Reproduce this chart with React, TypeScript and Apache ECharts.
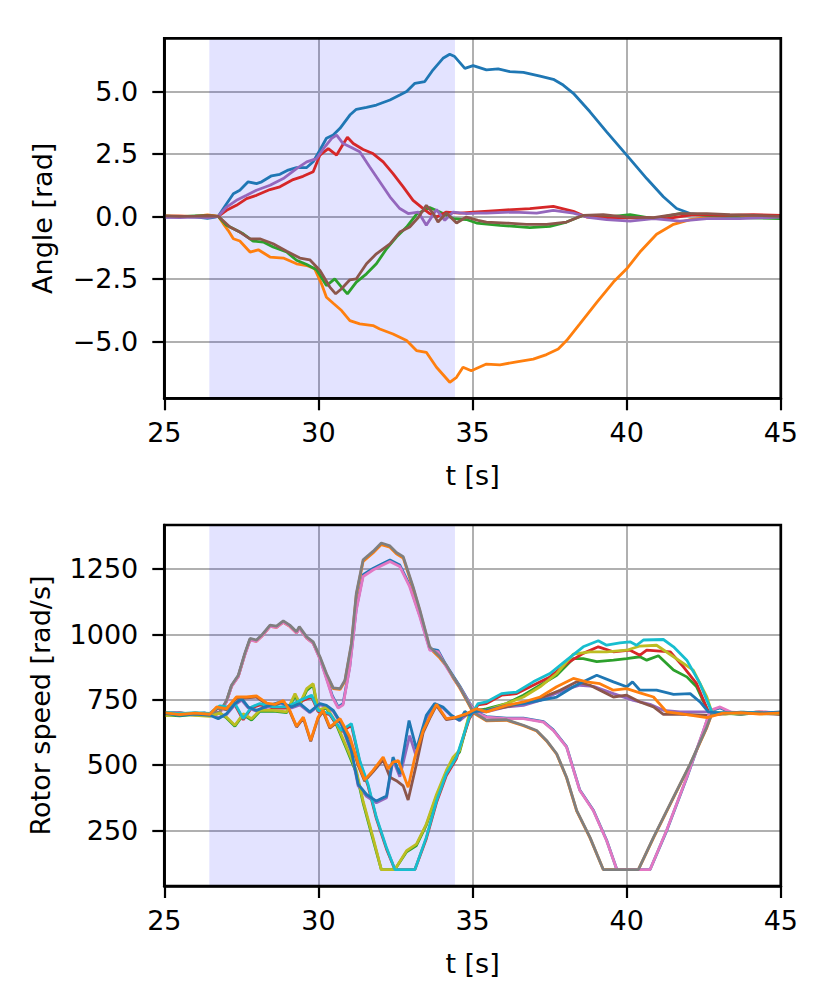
import React, { useEffect, useRef } from "react";
import * as echarts from "echarts";

type P = [number, number][];

const TAB10 = ["#1f77b4", "#ff7f0e", "#2ca02c", "#d62728", "#9467bd", "#8c564b", "#e377c2", "#7f7f7f", "#bcbd22", "#17becf"];

const X_TICKS = [25, 30, 35, 40, 45];
const ANGLE_TICKS = [-5, -2.5, 0, 2.5, 5];
const SPEED_TICKS = [250, 500, 750, 1000, 1250];
const SHADE: [number, number] = [26.46, 34.43];

// ---- Angles [rad] ----
const angBlue: P = [[25,-0.03],[25.5,0],[26,-0.02],[26.4,-0.08],[26.6,-0.04],[26.75,0],[27.02,0.5],[27.24,0.9],[27.45,1.04],[27.72,1.38],[27.99,1.31],[28.16,1.38],[28.48,1.62],[28.75,1.68],[29.02,1.85],[29.29,1.95],[29.62,1.95],[29.83,2.18],[30.05,2.65],[30.26,3.12],[30.48,3.25],[30.7,3.52],[31.02,4.05],[31.23,4.28],[31.56,4.36],[31.88,4.45],[32.32,4.65],[32.64,4.85],[32.86,4.99],[33.13,5.32],[33.45,5.39],[33.72,5.86],[34.04,6.32],[34.26,6.48],[34.42,6.39],[34.75,5.92],[35.02,6.03],[35.45,5.86],[35.83,5.9],[36.21,5.79],[36.65,5.76],[37.19,5.61],[37.62,5.48],[37.94,5.25],[38.27,4.92],[38.81,4.18],[39.35,3.38],[40.0,2.45],[40.65,1.51],[41.19,0.78],[41.62,0.31],[42.06,0.11],[42.6,0.04],[43.2,-0.02],[43.8,0.03],[44.4,-0.02],[45,0]];
const angOrange: P = [[25,0.02],[25.5,0.01],[26,0],[26.4,0.06],[26.6,0.03],[26.75,0],[26.91,-0.29],[27.07,-0.56],[27.24,-0.9],[27.45,-0.99],[27.78,-1.43],[28.05,-1.34],[28.43,-1.63],[28.86,-1.67],[29.29,-1.9],[29.62,-1.97],[29.88,-2.1],[30.1,-2.7],[30.26,-3.24],[30.48,-3.48],[30.75,-3.77],[31.02,-4.17],[31.34,-4.3],[31.77,-4.37],[31.99,-4.51],[32.42,-4.71],[32.86,-4.97],[33.18,-5.37],[33.5,-5.44],[33.83,-6.04],[34.26,-6.64],[34.48,-6.44],[34.69,-6.04],[34.96,-6.18],[35.45,-5.91],[35.89,-5.94],[36.43,-5.82],[36.97,-5.71],[37.4,-5.53],[37.78,-5.31],[38.05,-4.97],[38.48,-4.3],[39.03,-3.44],[39.57,-2.63],[40.0,-2.1],[40.43,-1.43],[40.97,-0.72],[41.52,-0.32],[42.06,-0.13],[42.6,-0.05],[43.3,0.02],[44,-0.02],[45,0.01]];
const angGreen: P = [[25,0.01],[25.5,-0.01],[26,0.02],[26.4,0.03],[26.75,0],[27.02,-0.36],[27.34,-0.56],[27.56,-0.7],[27.88,-0.99],[28.21,-1.03],[28.53,-1.23],[28.97,-1.43],[29.29,-1.76],[29.62,-1.93],[29.94,-2.14],[30.26,-2.77],[30.53,-2.5],[30.75,-2.83],[30.94,-3.1],[31.23,-2.63],[31.56,-2.3],[31.88,-1.9],[32.21,-1.3],[32.53,-0.83],[32.86,-0.43],[33.18,0.08],[33.61,0.35],[33.94,0.17],[34.37,-0.09],[34.8,-0.13],[35.13,-0.27],[35.89,-0.36],[36.86,-0.45],[37.51,-0.4],[38.05,-0.23],[38.59,0.04],[39.35,-0.03],[40.11,0.07],[40.87,-0.09],[41.73,0.11],[42.6,0.04],[43.68,-0.05],[45,-0.09]];
const angRed: P = [[25,0],[25.5,0.01],[26,-0.01],[26.4,0.02],[26.75,0],[27.02,0.24],[27.34,0.44],[27.67,0.71],[27.99,0.84],[28.43,1.07],[28.75,1.18],[29.18,1.47],[29.5,1.6],[29.83,1.78],[30.05,2.45],[30.32,2.71],[30.59,2.45],[30.75,2.78],[30.94,3.16],[31.13,2.91],[31.45,2.67],[31.77,2.51],[32.1,2.18],[32.42,1.71],[32.75,1.18],[33.07,0.64],[33.4,0.31],[33.61,0.11],[33.83,-0.03],[34.15,0.17],[34.59,0.13],[35.02,0.17],[35.89,0.24],[36.86,0.31],[37.62,0.4],[38.27,0.2],[38.7,-0.03],[39.57,-0.07],[40.43,-0.05],[41.3,-0.09],[42.16,0.07],[43.14,0.04],[44.11,0.07],[45,0.04]];
const angPurple: P = [[25,-0.04],[25.5,-0.05],[26,-0.03],[26.4,-0.05],[26.75,0],[27.02,0.37],[27.34,0.64],[27.67,0.84],[27.99,1.04],[28.43,1.24],[28.86,1.51],[29.29,1.91],[29.62,2.18],[29.94,2.31],[30.21,2.78],[30.43,3.12],[30.59,3.25],[30.8,2.91],[31.07,2.75],[31.34,2.58],[31.66,1.98],[31.99,1.38],[32.32,0.78],[32.64,0.31],[32.91,0.11],[33.24,0.17],[33.5,-0.36],[33.83,0.27],[34.1,-0.16],[34.37,0.17],[34.8,0.11],[35.18,0.13],[35.45,0.13],[36.32,0.17],[37.08,0.13],[37.62,0.24],[38.27,0.13],[38.81,-0.05],[39.35,-0.13],[40.11,-0.19],[40.87,-0.09],[41.73,-0.19],[42.6,-0.09],[43.68,-0.09],[45,-0.03]];
const angBrown: P = [[25,0.02],[25.5,0],[26,0.01],[26.4,0.02],[26.75,0],[27.13,-0.43],[27.45,-0.63],[27.78,-0.9],[28.1,-0.9],[28.53,-1.1],[28.97,-1.4],[29.4,-1.67],[29.72,-1.74],[30.05,-2.17],[30.37,-2.83],[30.56,-3.1],[30.75,-2.9],[31.02,-2.54],[31.23,-2.5],[31.56,-1.9],[31.88,-1.5],[32.32,-1.1],[32.64,-0.63],[32.96,-0.43],[33.24,-0.05],[33.5,0.44],[33.72,0.13],[33.88,-0.23],[34.15,0.13],[34.48,-0.27],[34.8,-0.03],[35.18,-0.16],[35.45,-0.23],[36.1,-0.27],[36.75,-0.32],[37.4,-0.32],[38.05,-0.23],[38.59,0.04],[39.24,0.07],[40.0,-0.03],[40.87,-0.05],[41.73,0.11],[42.6,0.11],[43.35,0.07],[45,0]];

// ---- Rotor speeds [rad/s] ----
const rot0: P = [[25,697],[25.4,701],[25.9,694],[26.3,699],[26.48,693],[26.8,701],[27.02,744],[27.18,802],[27.4,840],[27.61,922],[27.78,980],[27.99,975],[28.16,994],[28.43,1032],[28.64,1028],[28.86,1048],[29.07,1033],[29.29,1007],[29.38,1024],[29.62,987],[29.83,967],[30.05,908],[30.26,834],[30.45,765],[30.64,722],[30.8,735],[31.02,880],[31.23,1100],[31.45,1228],[31.77,1252],[32.04,1268],[32.32,1284],[32.64,1265],[32.96,1188],[33.29,1072],[33.61,944],[33.88,938],[34.15,880],[34.58,803],[34.9,738],[35.1,702],[35.45,685],[36.1,679],[36.65,679],[37.3,666],[37.62,634],[38.05,570],[38.48,404],[38.92,327],[39.35,212],[39.68,100],[40.76,100],[41.3,249],[41.95,451],[42.49,630],[42.71,707],[43.03,718],[43.4,700],[44,697],[44.5,701],[45,696]];
const rot1: P = [[25,699],[25.4,694],[25.9,696],[26.3,695],[26.48,695],[26.8,701],[27.02,744],[27.18,801],[27.4,839],[27.61,922],[27.78,979],[27.99,973],[28.16,992],[28.43,1030],[28.64,1026],[28.86,1046],[29.07,1030],[29.29,1005],[29.38,1024],[29.62,985],[29.83,966],[30.05,909],[30.26,846],[30.48,792],[30.7,789],[30.86,820],[31.07,958],[31.23,1150],[31.45,1279],[31.77,1311],[32.04,1343],[32.32,1333],[32.53,1308],[32.75,1292],[33.07,1177],[33.29,1088],[33.61,947],[33.94,909],[34.15,878],[34.37,833],[34.58,795],[34.85,738],[35.02,700],[35.45,669],[36.1,671],[36.65,650],[37.08,630],[37.4,592],[37.73,541],[38.05,451],[38.38,323],[38.81,221],[39.24,100],[40.38,100],[40.87,221],[41.52,375],[42.06,502],[42.6,643],[42.76,694],[43.2,698],[43.7,696],[44.2,700],[44.7,697],[45,694]];
const rot2: P = [[25,692],[25.5,688],[26,694],[26.48,690],[26.8,697],[27.02,680],[27.29,648],[27.56,692],[27.83,672],[28.1,705],[28.53,706],[28.97,700],[29.24,765],[29.4,730],[29.62,785],[29.83,805],[29.99,705],[30.26,718],[30.59,652],[30.91,562],[31.23,470],[31.45,355],[31.77,215],[32.04,100],[32.48,100],[32.86,168],[33.18,192],[33.5,270],[33.83,380],[34.15,472],[34.37,525],[34.58,550],[34.9,690],[35.02,705],[35.45,715],[36.1,735],[36.65,767],[37.19,805],[37.73,843],[38.27,907],[38.59,907],[39.03,895],[39.57,901],[40.0,907],[40.43,914],[40.65,901],[41.03,918],[41.52,863],[41.95,837],[42.27,799],[42.65,703],[43.1,698],[43.7,694],[44.3,700],[45,697]];
const rot3: P = [[25,699],[25.5,694],[26,698],[26.48,695],[26.8,722],[27.02,718],[27.29,730],[27.56,673],[27.83,718],[28.1,730],[28.53,718],[28.97,718],[29.4,742],[29.78,760],[29.99,705],[30.37,692],[30.75,628],[31.07,652],[31.34,512],[31.61,420],[31.88,295],[32.21,178],[32.48,100],[33.13,100],[33.5,218],[33.83,356],[34.15,460],[34.48,525],[34.9,678],[35.18,730],[35.45,735],[35.94,767],[36.43,773],[36.97,805],[37.51,837],[38.05,888],[38.59,927],[39.08,952],[39.57,933],[40.11,939],[40.43,920],[40.65,939],[41.41,933],[41.84,875],[42.27,811],[42.65,703],[43.1,700],[43.7,697],[44.3,703],[45,699]];
const rot4: P = [[25,694],[25.5,697],[26,691],[26.48,693],[26.75,680],[27.02,693],[27.29,730],[27.51,748],[27.72,718],[27.99,706],[28.32,720],[28.75,737],[29.13,718],[29.4,730],[29.72,700],[30.05,730],[30.26,724],[30.48,705],[30.75,652],[31.07,548],[31.29,420],[31.56,380],[31.88,355],[32.21,375],[32.42,520],[32.64,455],[32.96,612],[33.18,530],[33.5,680],[33.77,730],[34.04,718],[34.31,688],[34.58,670],[34.9,700],[35.02,703],[35.45,703],[36.1,722],[36.65,728],[37.19,747],[37.62,770],[38.05,790],[38.48,805],[38.92,801],[39.57,773],[40.22,747],[40.76,732],[41.19,709],[41.73,703],[42.6,703],[43.2,698],[43.8,701],[44.4,697],[45,700]];
const rot5: P = [[25,696],[25.5,699],[26,693],[26.48,697],[26.7,718],[27.02,712],[27.34,755],[27.67,757],[27.99,760],[28.32,733],[28.59,728],[28.86,743],[29.07,705],[29.29,645],[29.51,679],[29.75,590],[29.99,679],[30.15,705],[30.37,641],[30.7,673],[31.02,600],[31.29,498],[31.5,438],[31.77,474],[32.1,520],[32.32,453],[32.53,440],[32.75,420],[32.91,366],[33.18,504],[33.4,625],[33.61,678],[33.83,728],[34.15,673],[34.48,680],[34.8,692],[35.12,712],[35.45,709],[36.1,722],[36.75,741],[37.3,760],[37.84,786],[38.38,818],[38.81,805],[39.57,760],[40.0,767],[40.43,741],[40.87,722],[41.19,694],[41.73,694],[42.6,690],[43.1,695],[43.7,700],[44.3,697],[45,694]];
const rot6: P = [[25,695],[25.4,700],[25.9,692],[26.3,698],[26.48,692],[26.8,700],[27.02,742],[27.18,800],[27.4,838],[27.61,920],[27.78,978],[27.99,973],[28.16,992],[28.43,1030],[28.64,1026],[28.86,1046],[29.07,1031],[29.29,1005],[29.38,1022],[29.62,985],[29.83,965],[30.05,905],[30.26,830],[30.45,760],[30.64,718],[30.8,730],[31.02,875],[31.23,1093],[31.45,1221],[31.77,1246],[32.04,1262],[32.32,1278],[32.64,1259],[32.96,1182],[33.29,1067],[33.61,939],[33.88,933],[34.15,875],[34.58,799],[34.9,735],[35.1,700],[35.45,683],[36.1,677],[36.65,677],[37.3,664],[37.62,632],[38.05,568],[38.48,402],[38.92,325],[39.35,210],[39.68,100],[40.76,100],[41.3,251],[41.95,453],[42.49,632],[42.71,709],[43.03,722],[43.4,702],[44,698],[44.5,703],[45,697]];
const rot7: P = [[25,700],[25.4,692],[25.9,697],[26.3,693],[26.48,694],[26.8,703],[27.02,747],[27.18,805],[27.4,843],[27.61,927],[27.78,984],[27.99,978],[28.16,997],[28.43,1035],[28.64,1031],[28.86,1051],[29.07,1035],[29.29,1010],[29.38,1029],[29.62,990],[29.83,971],[30.05,914],[30.26,850],[30.48,795],[30.7,792],[30.86,824],[31.07,965],[31.23,1157],[31.45,1285],[31.77,1317],[32.04,1349],[32.32,1338],[32.53,1313],[32.75,1297],[33.07,1182],[33.29,1093],[33.61,952],[33.94,914],[34.15,882],[34.37,837],[34.58,799],[34.85,741],[35.02,703],[35.45,671],[36.1,673],[36.65,652],[37.08,632],[37.4,594],[37.73,543],[38.05,453],[38.38,325],[38.81,223],[39.24,100],[40.38,100],[40.87,223],[41.52,377],[42.06,504],[42.6,645],[42.76,696],[43.2,700],[43.7,694],[44.2,702],[44.7,698],[45,695]];
const rot8: P = [[25,688],[25.5,695],[26,690],[26.48,686],[26.8,699],[27.02,683],[27.29,652],[27.56,696],[27.83,677],[28.1,709],[28.53,709],[28.97,703],[29.24,773],[29.4,735],[29.62,792],[29.83,811],[29.99,709],[30.26,722],[30.59,658],[30.91,569],[31.23,479],[31.45,362],[31.77,223],[32.04,100],[32.48,100],[32.86,172],[33.18,197],[33.5,274],[33.83,387],[34.15,479],[34.37,530],[34.58,556],[34.9,696],[35.02,709],[35.45,709],[36.1,735],[36.65,760],[37.19,799],[37.73,850],[38.27,924],[38.81,933],[39.35,933],[40.0,939],[40.43,955],[40.97,958],[41.52,914],[42.16,863],[42.6,760],[42.76,703],[43.2,695],[43.8,700],[44.4,696],[45,698]];
const rot9: P = [[25,702],[25.5,696],[26,700],[26.48,697],[26.8,726],[27.02,722],[27.29,735],[27.56,677],[27.83,722],[28.1,735],[28.53,722],[28.97,722],[29.4,747],[29.78,767],[29.99,709],[30.37,696],[30.75,632],[31.07,658],[31.34,517],[31.61,426],[31.88,300],[32.21,183],[32.48,100],[33.13,100],[33.5,223],[33.83,362],[34.15,466],[34.48,530],[34.9,683],[35.18,735],[35.45,741],[35.94,773],[36.43,779],[36.97,818],[37.51,850],[38.05,901],[38.59,952],[39.08,975],[39.35,958],[39.78,967],[40.11,971],[40.32,958],[40.54,978],[41.19,980],[41.52,952],[41.95,901],[42.38,811],[42.76,703],[43.2,698],[43.8,702],[44.4,697],[45,700]];
const rot10: P = [[25,697],[25.5,690],[26,695],[26.48,690],[26.75,677],[27.02,696],[27.29,735],[27.51,754],[27.72,722],[27.99,709],[28.32,724],[28.75,741],[29.13,722],[29.4,735],[29.72,703],[30.05,735],[30.26,728],[30.48,709],[30.75,658],[31.07,554],[31.29,426],[31.56,387],[31.88,362],[32.21,381],[32.42,530],[32.64,466],[32.94,670],[33.18,561],[33.5,690],[33.77,735],[34.04,722],[34.31,690],[34.58,671],[34.75,705],[34.9,690],[35.02,703],[35.45,709],[36.1,728],[36.65,735],[37.19,747],[37.73,760],[38.27,799],[38.59,818],[39.03,843],[39.57,818],[40.0,799],[40.19,818],[40.43,786],[40.97,786],[41.52,770],[42.06,773],[42.38,741],[42.65,703],[43.1,697],[43.7,702],[44.3,698],[45,703]];
const rot11: P = [[25,700],[25.5,693],[26,698],[26.48,694],[26.7,722],[27.02,715],[27.34,760],[27.67,760],[27.99,764],[28.32,737],[28.59,732],[28.86,747],[29.07,709],[29.29,648],[29.51,683],[29.75,594],[29.99,683],[30.15,709],[30.37,645],[30.7,677],[31.02,607],[31.29,504],[31.5,443],[31.77,479],[32.1,530],[32.26,485],[32.42,511],[32.59,517],[32.75,466],[32.91,415],[33.13,530],[33.4,632],[33.61,683],[33.83,732],[34.15,677],[34.48,683],[34.8,696],[35.12,715],[35.45,703],[36.1,728],[36.65,741],[37.19,760],[37.73,799],[38.27,831],[38.7,818],[39.13,811],[39.57,786],[40.0,792],[40.43,776],[40.87,760],[41.3,703],[41.73,696],[42.6,681],[43.1,697],[43.7,700],[44.3,695],[45,699]];

const ANGLES = [angBlue, angOrange, angGreen, angRed, angPurple, angBrown];
const SPEEDS = [rot0, rot1, rot2, rot3, rot4, rot5, rot6, rot7, rot8, rot9, rot10, rot11];

const FONT = "DejaVu Sans";
const FS = 27;
const fmtNum = (d: number) => (v: number) => v.toFixed(d).replace("-", "\u2212");

function xAxisCfg(gridIndex: number) {
  return {
    gridIndex,
    type: "value",
    min: X_TICKS[0],
    max: X_TICKS[X_TICKS.length - 1],
    interval: 5,
    name: "t [s]",
    nameLocation: "middle",
    nameGap: 64,
    nameTextStyle: { fontFamily: FONT, fontSize: FS, color: "#000" },
    axisLine: { show: true, onZero: false, lineStyle: { color: "#000", width: 2.7 } },
    axisTick: { show: true, length: 12, lineStyle: { color: "#000", width: 2.2 } },
    axisLabel: { fontFamily: FONT, fontSize: FS, color: "#000", margin: 21 },
    splitLine: { show: true, lineStyle: { color: "#b0b0b0", width: 2 } },
  };
}

function yAxisCfg(gridIndex: number, min: number, max: number, ticks: number[], name: string, decimals: number, gap: number) {
  return {
    gridIndex,
    type: "value",
    min,
    max,
    name,
    nameLocation: "middle",
    nameGap: gap,
    nameTextStyle: { fontFamily: FONT, fontSize: FS, color: "#000" },
    axisLine: { show: true, onZero: false, lineStyle: { color: "#000", width: 2.7 } },
    axisTick: { show: true, length: 12, customValues: ticks, lineStyle: { color: "#000", width: 2.2 } },
    axisLabel: { fontFamily: FONT, fontSize: FS, color: "#000", margin: 26, customValues: ticks, formatter: fmtNum(decimals) },
    splitLine: { show: true, lineStyle: { color: "#b0b0b0", width: 2 } },
  };
}

function shade() {
  return {
    silent: true,
    itemStyle: { color: "rgba(0,0,255,0.11)" },
    data: [[{ xAxis: SHADE[0] }, { xAxis: SHADE[1] }]],
  };
}

export default function App() {
  const ref = useRef<HTMLDivElement>(null);
  useEffect(() => {
    if (!ref.current) return;
    const chart = echarts.init(ref.current, undefined, { renderer: "svg" });
    const series: any[] = [];
    ANGLES.forEach((d, i) => {
      series.push({
        type: "line",
        xAxisIndex: 0,
        yAxisIndex: 0,
        data: d,
        showSymbol: false,
        symbol: "none",
        lineStyle: { color: TAB10[i % 10], width: 2.8 },
        itemStyle: { color: TAB10[i % 10] },
        z: 3,
        markArea: i === 0 ? shade() : undefined,
      });
    });
    SPEEDS.forEach((d, i) => {
      series.push({
        type: "line",
        xAxisIndex: 1,
        yAxisIndex: 1,
        data: d,
        showSymbol: false,
        symbol: "none",
        lineStyle: { color: TAB10[i % 10], width: 2.8 },
        itemStyle: { color: TAB10[i % 10] },
        z: 3,
        markArea: i === 0 ? shade() : undefined,
      });
    });
    chart.setOption({
      animation: false,
      backgroundColor: "#fff",
      textStyle: { fontFamily: FONT },
      grid: [
        { left: 164.3, top: 38.3, width: 616.5, height: 360, show: true, z: 10, borderColor: "#000", borderWidth: 2.7, backgroundColor: "transparent" },
        { left: 164.3, top: 525, width: 616.5, height: 361, show: true, z: 10, borderColor: "#000", borderWidth: 2.7, backgroundColor: "transparent" },
      ],
      xAxis: [xAxisCfg(0), xAxisCfg(1)],
      yAxis: [
        yAxisCfg(0, -7.28, 7.12, ANGLE_TICKS, "Angle [rad]", 1, 108),
        yAxisCfg(1, 37, 1418, SPEED_TICKS, "Rotor speed [rad/s]", 0, 110),
      ],
      series,
    });
    return () => chart.dispose();
  }, []);
  return <div ref={ref} style={{ position: "fixed", left: 0, top: 0, width: 829, height: 1005 }} />;
}
